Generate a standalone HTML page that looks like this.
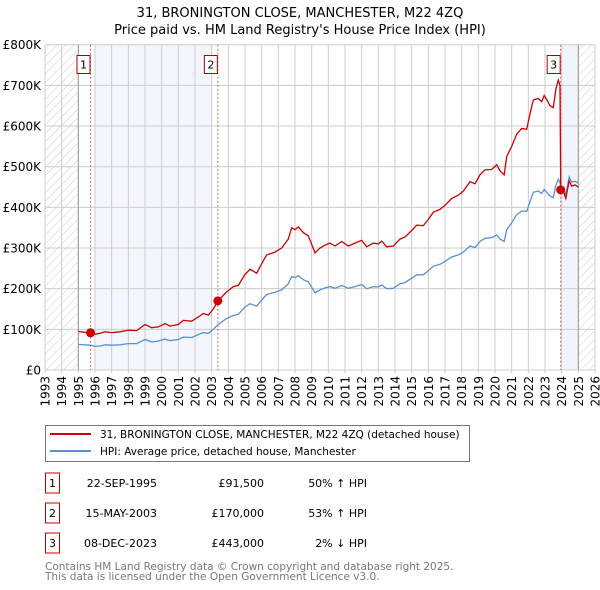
<!DOCTYPE html>
<html><head><meta charset="utf-8">
<style>
body{margin:0;background:#fff;font-family:"DejaVu Sans","Liberation Sans",sans-serif;}
svg{display:block}
</style></head><body>
<svg id="chart" width="600" height="590" xmlns="http://www.w3.org/2000/svg" font-family="DejaVu Sans, Liberation Sans, sans-serif">
<defs>
<pattern id="hatch" patternUnits="userSpaceOnUse" width="6" height="6" patternTransform="rotate(45)">
<line x1="0" y1="0" x2="0" y2="6" stroke="#ccc" stroke-width="1"/>
</pattern>
</defs>
<text x="300" y="17" text-anchor="middle" font-size="13">31, BRONINGTON CLOSE, MANCHESTER, M22 4ZQ</text>
<text x="300" y="34" text-anchor="middle" font-size="13">Price paid vs. HM Land Registry's House Price Index (HPI)</text>
<g id="plot"></g>
<g>
<rect x="45.5" y="425.5" width="424" height="36" fill="#fff" stroke="#777"/>
<line x1="50" y1="434" x2="91" y2="434" stroke="#cc0000" stroke-width="2"/>
<text x="100" y="438" font-size="10.5">31, BRONINGTON CLOSE, MANCHESTER, M22 4ZQ (detached house)</text>
<line x1="50" y1="451" x2="91" y2="451" stroke="#5b8fd4" stroke-width="2"/>
<text x="100" y="455" font-size="10.5">HPI: Average price, detached house, Manchester</text>
</g>
<g id="table" font-size="11"></g>
<text x="45" y="570" font-size="10.5" fill="#777">Contains HM Land Registry data © Crown copyright and database right 2025.</text>
<text x="45" y="580" font-size="10.5" fill="#777">This data is licensed under the Open Government Licence v3.0.</text>
</svg>
<script>
const yearsX=[1995.0,1995.3,1995.73,1996.0,1996.3,1996.6,1997.0,1997.5,1998.0,1998.5,1999.0,1999.4,1999.8,2000.2,2000.5,2001.0,2001.3,2001.8,2002.3,2002.5,2002.8,2003.1,2003.37,2003.5,2003.9,2004.3,2004.6,2005.0,2005.3,2005.7,2006.0,2006.3,2006.8,2007.2,2007.6,2007.8,2008.0,2008.2,2008.5,2008.8,2009.2,2009.5,2009.8,2010.1,2010.4,2010.8,2011.2,2011.6,2012.0,2012.3,2012.7,2013.0,2013.2,2013.5,2013.9,2014.3,2014.6,2015.0,2015.3,2015.7,2016.0,2016.3,2016.7,2017.0,2017.4,2017.8,2018.1,2018.5,2018.8,2019.1,2019.4,2019.8,2020.1,2020.3,2020.55,2020.7,2021.0,2021.3,2021.6,2021.9,2022.1,2022.3,2022.6,2022.8,2022.95,2023.1,2023.3,2023.5,2023.65,2023.8,2023.9,2023.94,2024.1,2024.25,2024.45,2024.6,2024.8,2025.0];
const propertyValues=[95,93,91.5,88,90,94,92,94,98,97,112,104,106,114,108,112,122,120,133,139,135,150,170,175,192,205,208,235,248,238,262,283,290,300,322,350,345,352,338,330,288,300,307,312,305,316,305,312,319,303,312,310,317,303,305,322,327,343,356,355,370,388,395,405,422,430,440,463,458,480,492,493,505,490,480,525,550,580,594,592,630,664,668,660,675,665,650,645,690,713,700,443,440,422,465,452,455,450];
const hpiValues=[63,62,61,58,59,62,61,62,65,65,75,69,71,76,72,75,81,80,89,92,90,100,111,115,127,134,137,155,163,157,172,186,191,197,212,230,227,232,222,217,190,197,202,205,201,208,201,205,210,200,205,204,209,200,201,212,215,226,234,234,244,255,260,267,278,283,290,305,301,316,324,325,332,322,316,345,362,382,391,390,414,437,440,434,444,437,428,424,454,469,460,452,449,430,475,462,464,460];
const yTicks=[0,100,200,300,400,500,600,700,800];
const yTickLabels=["£0","£100K","£200K","£300K","£400K","£500K","£600K","£700K","£800K"];
const xTickYears=[1993,1994,1995,1996,1997,1998,1999,2000,2001,2002,2003,2004,2005,2006,2007,2008,2009,2010,2011,2012,2013,2014,2015,2016,2017,2018,2019,2020,2021,2022,2023,2024,2025,2026];
const saleYears=[1995.73,2003.37,2023.94];
const salePrices=[91.5,170,443];
const saleLabels=["1","2","3"];
const saleDates=["22-SEP-1995","15-MAY-2003","08-DEC-2023"];
const salePriceText=["£91,500","£170,000","£443,000"];
const saleHpiText=["50% ↑ HPI","53% ↑ HPI","2% ↓ HPI"];

const NS="http://www.w3.org/2000/svg";
const X0=45,X1=595,Y0=370,Y1=44.7;
const xs=y=>X0+(y-1993)/(2026-1993)*(X1-X0);
const ys=v=>Y0-v/800*(Y0-Y1);
const plot=document.getElementById('plot');
function mk(tag,attrs,parent){const e=document.createElementNS(NS,tag);for(const k in attrs)e.setAttribute(k,attrs[k]);(parent||plot).appendChild(e);return e;}
let r;
r=mk('rect',{x:xs(1993),y:Y1,width:xs(1995)-xs(1993),height:Y0-Y1,fill:'url(#hatch)'});

r=mk('rect',{x:xs(2025),y:Y1,width:xs(2026)-xs(2025),height:Y0-Y1,fill:'url(#hatch)'});

r=mk('rect',{x:xs(1996),y:Y1,width:xs(2003)-xs(1996),height:Y0-Y1,fill:'#eef3fc',opacity:0.7});

r=mk('rect',{x:xs(2024),y:Y1,width:xs(2025)-xs(2024),height:Y0-Y1,fill:'#eef3fc',opacity:0.9});

yTicks.forEach((t,i)=>{
 const l=mk('line',{x1:X0,x2:X1,y1:ys(t),y2:ys(t),stroke:'#ccc','stroke-width':1});
 
 const tx=mk('text',{x:41,y:ys(t)+4.5,'text-anchor':'end','font-size':12});
 
 tx.textContent=yTickLabels[i];
});
xTickYears.forEach(yr=>{
 const l=mk('line',{x1:xs(yr),x2:xs(yr),y1:Y1,y2:Y0+3,stroke:'#ccc','stroke-width':1});
 
 const tx=mk('text',{x:0,y:0,'text-anchor':'end','font-size':12,transform:`translate(${xs(yr)+4.5},${Y0+6}) rotate(-90)`});
 
 tx.textContent=yr;
});
[1995,2025].forEach(yr=>{const l=mk('line',{x1:xs(yr),x2:xs(yr),y1:Y1,y2:Y0,stroke:'#999','stroke-width':1});
 });
saleYears.forEach((yr,i)=>{
 const l=mk('line',{x1:xs(yr),x2:xs(yr),y1:Y1,y2:Y0,stroke:'#e06060','stroke-width':1,'stroke-dasharray':'2,2'});
 
 const bx=mk('rect',{x:xs(yr)-13.5,y:55.5,width:13,height:18,fill:'#fff',stroke:'#aa0000'});
 
 const t=mk('text',{x:xs(yr)-7,y:68.5,'text-anchor':'middle','font-size':11});
 
 t.textContent=saleLabels[i];
});
const pts=a=>yearsX.map((y,i)=>xs(y).toFixed(1)+','+ys(a[i]).toFixed(1)).join(' ');
let p=mk('polyline',{points:pts(hpiValues),fill:'none',stroke:'#5b8fd4','stroke-width':1.3});

p=mk('polyline',{points:pts(propertyValues),fill:'none',stroke:'#cc0000','stroke-width':1.3});

saleYears.forEach((yr,i)=>{
 const c=mk('circle',{cx:xs(yr),cy:ys(salePrices[i]),r:4.5,fill:'#cc0000'});
 
});
const tb=document.getElementById('table');
const rowY=[483,513,543];
saleLabels.forEach((s,i)=>{
 const g=mk('g',{},tb);
 
 mk('rect',{x:45.5,y:rowY[i]-10,width:14,height:20,fill:'#fff',stroke:'#cc0000'},g);
 let t=mk('text',{x:52.5,y:rowY[i]+4,'text-anchor':'middle'},g);t.textContent=s;
 t=mk('text',{x:157,y:rowY[i]+4,'text-anchor':'end'},g);t.textContent=saleDates[i];
 t=mk('text',{x:264,y:rowY[i]+4,'text-anchor':'end'},g);t.textContent=salePriceText[i];
 t=mk('text',{x:367,y:rowY[i]+4,'text-anchor':'end'},g);t.textContent=saleHpiText[i];
});
</script>
</body></html>
